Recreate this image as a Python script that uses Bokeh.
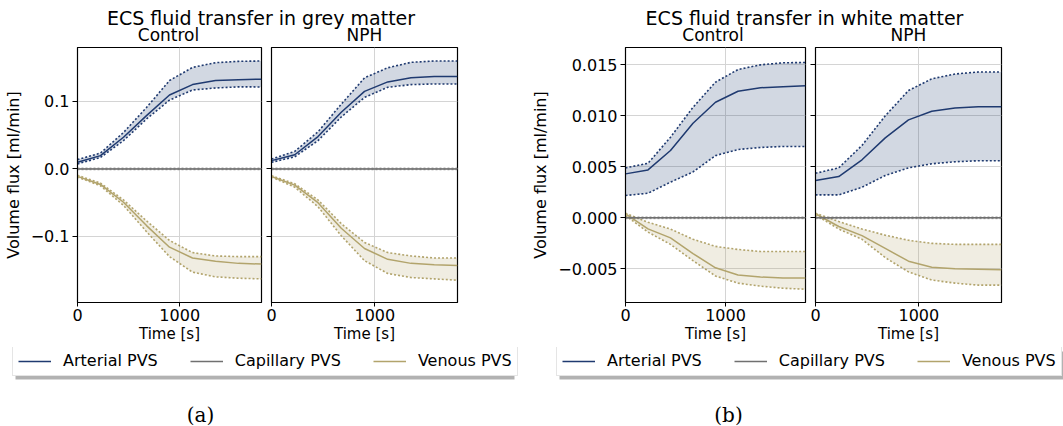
from bokeh.plotting import figure
from bokeh.layouts import row, column
from bokeh.models import (Range1d, FixedTicker, CustomJSTickFormatter, Label,
                          Legend, LegendItem, BoxAnnotation)
from bokeh.embed import file_html
from bokeh.resources import INLINE

# ---------------- data ----------------
time_s = [0, 225, 450, 675, 900, 1125, 1350, 1575, 1800]

# grey matter, Control
grey_ctrl_art_mean = [0.0098, 0.0197, 0.047, 0.079, 0.1096, 0.125, 0.131, 0.1323, 0.133]
grey_ctrl_art_hi = [0.0138, 0.0235, 0.054, 0.091, 0.131, 0.1505, 0.1575, 0.1595, 0.160]
grey_ctrl_art_lo = [0.0074, 0.017, 0.042, 0.074, 0.102, 0.117, 0.120, 0.1217, 0.1215]
grey_ctrl_ven_mean = [-0.011, -0.023, -0.0494, -0.084, -0.116, -0.132, -0.137, -0.140, -0.141]
grey_ctrl_ven_hi = [-0.0095, -0.021, -0.046, -0.077, -0.106, -0.124, -0.129, -0.130, -0.130]
grey_ctrl_ven_lo = [-0.012, -0.025, -0.054, -0.093, -0.130, -0.153, -0.160, -0.162, -0.163]
# grey matter, NPH
grey_nph_art_mean = [0.0123, 0.021, 0.048, 0.084, 0.115, 0.129, 0.135, 0.137, 0.137]
grey_nph_art_hi = [0.0146, 0.026, 0.055, 0.096, 0.135, 0.150, 0.158, 0.160, 0.160]
grey_nph_art_lo = [0.0098, 0.018, 0.042, 0.077, 0.106, 0.121, 0.125, 0.126, 0.126]
grey_nph_ven_mean = [-0.0113, -0.024, -0.050, -0.088, -0.118, -0.134, -0.140, -0.142, -0.143]
grey_nph_ven_hi = [-0.010, -0.022, -0.046, -0.081, -0.109, -0.124, -0.129, -0.132, -0.132]
grey_nph_ven_lo = [-0.012, -0.027, -0.056, -0.099, -0.136, -0.155, -0.161, -0.163, -0.165]
grey_cap_mean = [0, 0, 0, 0, 0, 0, 0, 0, 0]
grey_cap_hi = [0.0012] * 9
grey_cap_lo = [-0.0012] * 9

# white matter, Control
white_ctrl_art_mean = [0.00431, 0.0047, 0.0066, 0.00928, 0.01133, 0.01241, 0.01275, 0.01286, 0.01294]
white_ctrl_art_hi = [0.0049, 0.00535, 0.0079, 0.01084, 0.0133, 0.01454, 0.0150, 0.0152, 0.01523]
white_ctrl_art_lo = [0.00219, 0.00241, 0.0035, 0.0045, 0.0061, 0.0067, 0.0069, 0.0070, 0.0070]
white_ctrl_ven_mean = [0.0004, -0.00108, -0.00196, -0.0035, -0.0049, -0.0056, -0.0058, -0.0059, -0.0059]
white_ctrl_ven_hi = [0.00045, -0.00043, -0.0011, -0.0021, -0.0028, -0.0031, -0.0033, -0.0033, -0.0033]
white_ctrl_ven_lo = [0.00023, -0.0014, -0.0026, -0.0042, -0.0057, -0.0064, -0.0067, -0.0069, -0.0070]
# white matter, NPH
white_nph_art_mean = [0.00366, 0.00405, 0.00569, 0.00784, 0.0096, 0.01045, 0.01078, 0.0109, 0.0109]
white_nph_art_hi = [0.00437, 0.0049, 0.0071, 0.0100, 0.01248, 0.01363, 0.0141, 0.0143, 0.0143]
white_nph_art_lo = [0.00225, 0.00225, 0.0030, 0.00415, 0.0049, 0.0053, 0.0055, 0.0056, 0.0056]
white_nph_ven_mean = [0.0004, -0.00085, -0.00174, -0.0030, -0.00425, -0.00484, -0.0050, -0.00505, -0.0051]
white_nph_ven_hi = [0.00045, -0.00036, -0.0011, -0.0017, -0.0022, -0.0025, -0.0026, -0.0026, -0.0026]
white_nph_ven_lo = [0.0003, -0.0011, -0.0021, -0.0039, -0.0053, -0.0061, -0.0064, -0.0066, -0.0066]
white_cap_mean = [0, 0, 0, 0, 0, 0, 0, 0, 0]
white_cap_hi = [0.00008] * 9
white_cap_lo = [-0.00008] * 9

x_ticks = [0, 1000]
grey_y_ticks = [-0.1, 0.0, 0.1]
white_y_ticks = [-0.005, 0.0, 0.005, 0.010, 0.015]
series_names = ["Arterial PVS", "Capillary PVS", "Venous PVS"]
group_titles = ["ECS fluid transfer in grey matter", "ECS fluid transfer in white matter"]
panel_titles = ["Control", "NPH"]
captions = ["(a)", "(b)"]

# ---------------- style ----------------
ART = "#1f3a70"
CAP = "#707070"
VEN = "#b2a46c"
FONT = "DejaVu Sans"
PH = 301  # subplot figure height
LH = 79   # legend/caption figure height
NAN = float("nan")


def make_panel(width, left, right, yr, yticks, decimals, first):
    p = figure(width=width, height=PH, x_range=Range1d(0, 1800), y_range=Range1d(*yr),
               output_backend="svg", toolbar_location=None, title=None,
               min_border_left=left, min_border_right=right,
               min_border_top=1, min_border_bottom=PH - 256)
    p.xaxis.ticker = FixedTicker(ticks=x_ticks)
    p.yaxis.ticker = FixedTicker(ticks=yticks)
    if first:
        p.yaxis.formatter = CustomJSTickFormatter(
            code="return (tick < -1e-12 ? '\u2212' : '') + Math.abs(tick).toFixed(%d);" % decimals)
        p.yaxis.axis_label = "Volume flux [ml/min]"
        p.yaxis.major_label_standoff = 3
    else:
        p.yaxis.formatter = CustomJSTickFormatter(code="return '';")
        p.yaxis.major_label_standoff = 0
    for ax in list(p.xaxis) + list(p.yaxis):
        ax.major_tick_in = 0
        ax.minor_tick_in = 0
        ax.minor_tick_out = 0
        ax.major_tick_line_color = "black"
        ax.axis_line_color = "black"
        ax.major_label_text_font = FONT
        ax.major_label_text_font_size = "16px"
        ax.major_label_text_color = "black"
        ax.axis_label_text_font = FONT
        ax.axis_label_text_font_style = "normal"
        ax.axis_label_text_color = "black"
    p.yaxis.major_tick_out = 5
    p.yaxis.axis_label_text_font_size = "16px"
    p.yaxis.axis_label_standoff = 5
    p.xaxis.major_tick_out = 4
    p.xaxis.major_label_standoff = 2
    p.xaxis.axis_label = "Time [s]"
    p.xaxis.axis_label_text_font_size = "15px"
    p.xaxis.axis_label_standoff = 1
    p.grid.grid_line_color = "#d4d4d4"
    p.grid.grid_line_width = 1
    p.outline_line_color = "black"
    p.outline_line_width = 1.2
    p.outline_line_alpha = 1
    return p


def add_series(p, mean, hi, lo, color, band_line=1.6):
    p.varea(x=time_s, y1=lo, y2=hi, fill_color=color, fill_alpha=0.2)
    p.line(time_s, hi, line_color=color, line_width=band_line, line_dash="2 2")
    p.line(time_s, lo, line_color=color, line_width=band_line, line_dash="2 2")
    p.line(time_s, mean, line_color=color, line_width=1.5)


def header(width, title_x, sub_xs, title):
    h = figure(width=width, height=46, x_range=Range1d(0, width), y_range=Range1d(0, 46),
               x_axis_type=None, y_axis_type=None, output_backend="svg",
               toolbar_location=None, title=None, min_border=0)
    h.grid.visible = False
    h.outline_line_color = None
    h.add_layout(Label(x=title_x, y=29, text=title, text_align="center",
                       text_baseline="middle", text_font=FONT, text_font_size="19px",
                       text_color="black"))
    for sx, st in zip(sub_xs, panel_titles):
        h.add_layout(Label(x=sx, y=12, text=st, text_align="center",
                           text_baseline="middle", text_font=FONT, text_font_size="17px",
                           text_color="black"))
    return h


def legend_fig(width, lx, lw, cap, cap_x):
    f = figure(width=width, height=LH, x_range=Range1d(0, width), y_range=Range1d(0, LH),
               x_axis_type=None, y_axis_type=None, output_backend="svg",
               toolbar_location=None, title=None, min_border=0)
    f.grid.visible = False
    f.outline_line_color = None
    # legend-only renderers (no visible data)
    rs = [f.line(x=[NAN], y=[NAN], line_color=c, line_width=1.5) for c in (ART, CAP, VEN)]
    top = LH - 1
    f.add_layout(BoxAnnotation(left=lx + 3, right=lx + lw + 3, top=top - 3, bottom=top - 31,
                               fill_color="#000000", fill_alpha=0.3, line_color=None))
    leg = Legend(items=[LegendItem(label=n, renderers=[r]) for n, r in zip(series_names, rs)],
                 orientation="horizontal", location=(lx, top - 28), padding=5, spacing=32,
                 label_standoff=12, glyph_width=33, glyph_height=18, label_height=18,
                 label_text_font=FONT, label_text_font_size="16px", label_text_color="black",
                 border_line_color="#cccccc", border_line_width=1,
                 background_fill_color="white", background_fill_alpha=1)
    f.add_layout(leg)
    f.add_layout(Label(x=cap_x, y=12, text=cap, text_align="center", text_baseline="middle",
                       text_font="DejaVu Serif", text_font_size="20px", text_color="black"))
    return f


# ---------------- grey matter ----------------
grey_yr = (-0.198, 0.18)
fA1 = make_panel(266, 75, 5, grey_yr, grey_y_ticks, 1, True)
fA2 = make_panel(262, 5, 71, grey_yr, grey_y_ticks, 1, False)
add_series(fA1, grey_ctrl_art_mean, grey_ctrl_art_hi, grey_ctrl_art_lo, ART)
add_series(fA1, grey_ctrl_ven_mean, grey_ctrl_ven_hi, grey_ctrl_ven_lo, VEN)
add_series(fA1, grey_cap_mean, grey_cap_hi, grey_cap_lo, CAP, 0.8)
add_series(fA2, grey_nph_art_mean, grey_nph_art_hi, grey_nph_art_lo, ART)
add_series(fA2, grey_nph_ven_mean, grey_nph_ven_hi, grey_nph_ven_lo, VEN)
add_series(fA2, grey_cap_mean, grey_cap_hi, grey_cap_lo, CAP, 0.8)
headA = header(528, 260.5, [168, 364], group_titles[0])
legA = legend_fig(528, 12, 499, captions[0], 200)

# ---------------- white matter ----------------
white_yr = (-0.0083, 0.0167)
fB1 = make_panel(282, 91, 5, white_yr, white_y_ticks, 3, True)
fB2 = make_panel(253, 5, 62, white_yr, white_y_ticks, 3, False)
add_series(fB1, white_ctrl_art_mean, white_ctrl_art_hi, white_ctrl_art_lo, ART)
add_series(fB1, white_ctrl_ven_mean, white_ctrl_ven_hi, white_ctrl_ven_lo, VEN)
add_series(fB1, white_cap_mean, white_cap_hi, white_cap_lo, CAP, 0.8)
add_series(fB2, white_nph_art_mean, white_nph_art_hi, white_nph_art_lo, ART)
add_series(fB2, white_nph_ven_mean, white_nph_ven_hi, white_nph_ven_lo, VEN)
add_series(fB2, white_cap_mean, white_cap_hi, white_cap_lo, CAP, 0.8)
headB = header(535, 276, [184.5, 380], group_titles[1])
legB = legend_fig(535, 28, 505, captions[1], 200)

colA = column(headA, row(fA1, fA2), legA)
colB = column(headB, row(fB1, fB2), legB)
layout = row(colA, colB)

open("out.html", "w").write(file_html(layout, INLINE))
